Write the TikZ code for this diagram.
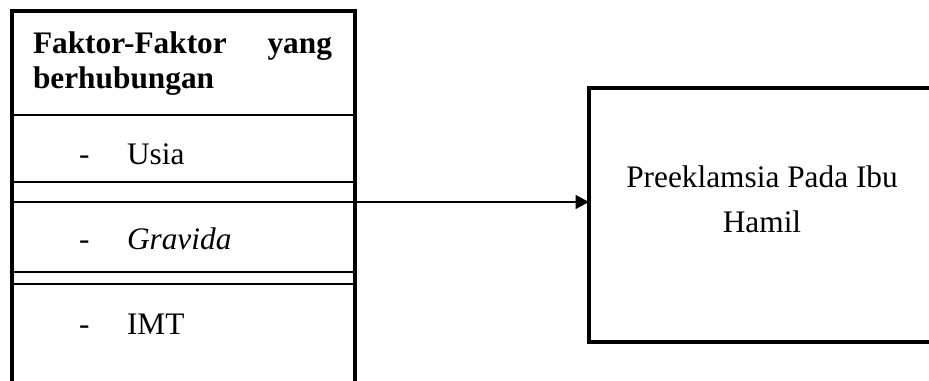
\documentclass[tikz,border=0pt]{standalone}
\usepackage{fontspec}
\setmainfont{Liberation Serif}
\usetikzlibrary{arrows.meta}

\begin{document}
\begin{tikzpicture}[x=0.75pt,y=-0.75pt,
	every node/.style={font=\fontsize{23.5}{27}\selectfont,inner sep=0pt,outer sep=0pt},
	tebal/.style={line width=2.4pt,line join=miter},
	tipis/.style={line width=1.2pt}]
	\clip (0,0) rectangle (929,380);
	
	% kotak faktor
	\coordinate (kiriBawah) at (12,390);
	\coordinate (kiriAtas) at (12,11);
	\coordinate (kananAtas) at (355,11);
	\coordinate (kananBawah) at (355,390);
	\draw[tebal] (kiriBawah) -- (kiriAtas) -- (kananAtas) -- (kananBawah);
	\foreach \y in {115,182,202,272,284}
		\draw[tipis] (12,\y) -- (355,\y);
	
	\node[anchor=base west,font=\fontsize{23.5}{27}\selectfont\bfseries] (judulA) at (33,53) {Faktor-Faktor};
	\node[anchor=base east,font=\fontsize{23.5}{27}\selectfont\bfseries] (judulB) at (332,53) {yang};
	\node[anchor=base west,font=\fontsize{23.5}{27}\selectfont\bfseries] (judulC) at (33,88) {berhubungan};
	
	\node[anchor=base west] (strip1) at (79,164) {-};
	\node[anchor=base west] (usia) at (127,164) {Usia};
	\node[anchor=base west] (strip2) at (79,249) {-};
	\node[anchor=base west] (gravida) at (127,249) {\itshape Gravida};
	\node[anchor=base west] (strip3) at (79,334) {-};
	\node[anchor=base west] (imt) at (127,334) {IMT};
	
	% kotak hasil
	\node[draw,tebal,anchor=north west,minimum width=285pt,minimum height=190.5pt] (hasil) at (589,88) {};
	\node[anchor=base] (hasilA) at (762,187) {Preeklamsia Pada Ibu};
	\node[anchor=base] (hasilB) at (762,232) {Hamil};
	
	\coordinate (keluar) at (355,202);
	\draw[line width=2.2pt,-{Triangle[length=10pt,width=10pt]}] (keluar) -- (keluar -| hasil.west);
\end{tikzpicture}
\end{document}
